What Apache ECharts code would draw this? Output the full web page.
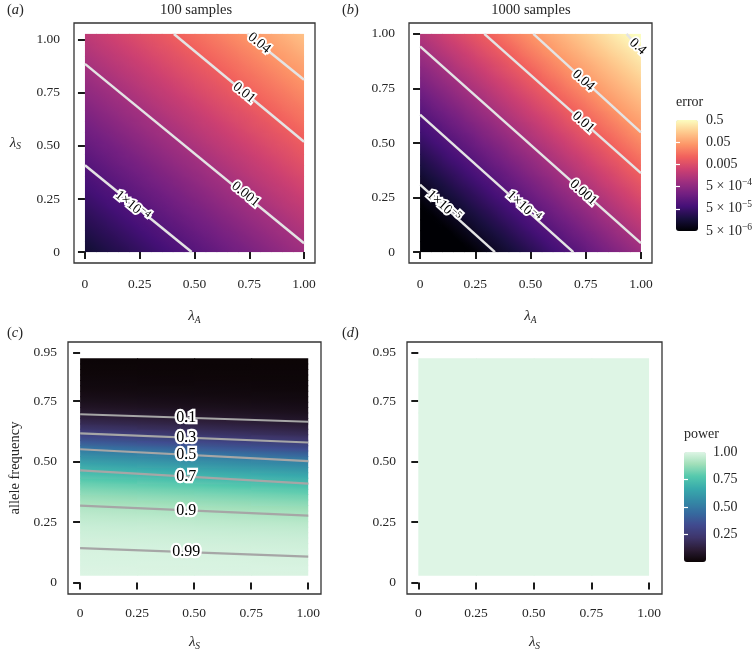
<!DOCTYPE html>
<html><head><meta charset="utf-8">
<script src="https://cdn.jsdelivr.net/npm/echarts@6/dist/echarts.min.js"></script>
<style>html,body{margin:0;padding:0;background:#fff}#c{width:756px;height:650px}</style>
</head><body><div id="c"></div>
<script>
// ---------------- data ----------------
// cell centres
const A_X = [0.025,0.075,0.125,0.175,0.225,0.275,0.325,0.375,0.425,0.475,0.525,0.575,0.625,0.675,0.725,0.775,0.825,0.875,0.925,0.975];
const A_Y = [0.0257,0.0771,0.1284,0.1798,0.2311,0.2825,0.3338,0.3852,0.4365,0.4879,0.5392,0.5906,0.6419,0.6933,0.7446,0.7960,0.8473,0.8987,0.9500,1.0014];
const B_X = [0.025,0.075,0.125,0.175,0.225,0.275,0.325,0.375,0.425,0.475,0.525,0.575,0.625,0.675,0.725,0.775,0.825,0.875,0.925,0.975];
const B_Y = [0.025,0.075,0.125,0.175,0.225,0.275,0.325,0.375,0.425,0.475,0.525,0.575,0.625,0.675,0.725,0.775,0.825,0.875,0.925,0.975];
const C_X = [0.125,0.375,0.625,0.875];
const C_Y = [0.0393,0.0618,0.0843,0.1068,0.1293,0.1518,0.1743,0.1968,0.2193,0.2418,0.2643,0.2868,0.3093,0.3318,0.3543,0.3768,0.3993,0.4218,0.4443,0.4668,0.4893,0.5118,0.5343,0.5568,0.5793,0.6018,0.6243,0.6468,0.6693,0.6918,0.7143,0.7368,0.7593,0.7818,0.8043,0.8268,0.8493,0.8718,0.8943,0.9168];
const D_X = [0.125,0.375,0.625,0.875];
const D_Y = [0.1405,0.3655,0.5905,0.8155];

// panel (a): log10(error), 100 samples (rows = lambda_S from bottom, cols = lambda_A)
const A_LOG_ERR = [
[-4.76,-4.67,-4.58,-4.50,-4.41,-4.32,-4.23,-4.14,-4.05,-3.97,-3.88,-3.79,-3.70,-3.61,-3.53,-3.44,-3.35,-3.26,-3.17,-3.09],
[-4.65,-4.56,-4.48,-4.39,-4.30,-4.21,-4.12,-4.03,-3.95,-3.86,-3.77,-3.68,-3.59,-3.51,-3.42,-3.33,-3.24,-3.15,-3.07,-2.98],
[-4.54,-4.46,-4.37,-4.28,-4.19,-4.10,-4.02,-3.93,-3.84,-3.75,-3.66,-3.58,-3.49,-3.40,-3.31,-3.22,-3.13,-3.05,-2.96,-2.87],
[-4.44,-4.35,-4.26,-4.17,-4.08,-4.00,-3.91,-3.82,-3.73,-3.64,-3.56,-3.47,-3.38,-3.29,-3.20,-3.11,-3.03,-2.94,-2.85,-2.76],
[-4.33,-4.24,-4.15,-4.07,-3.98,-3.89,-3.80,-3.71,-3.62,-3.54,-3.45,-3.36,-3.27,-3.18,-3.10,-3.01,-2.92,-2.83,-2.74,-2.66],
[-4.22,-4.13,-4.05,-3.96,-3.87,-3.78,-3.69,-3.60,-3.52,-3.43,-3.34,-3.25,-3.16,-3.08,-2.99,-2.90,-2.81,-2.72,-2.64,-2.55],
[-4.11,-4.03,-3.94,-3.85,-3.76,-3.67,-3.58,-3.50,-3.41,-3.32,-3.23,-3.14,-3.06,-2.97,-2.88,-2.79,-2.70,-2.62,-2.53,-2.44],
[-4.01,-3.92,-3.83,-3.74,-3.65,-3.57,-3.48,-3.39,-3.30,-3.21,-3.13,-3.04,-2.95,-2.86,-2.77,-2.68,-2.60,-2.51,-2.42,-2.33],
[-3.90,-3.81,-3.72,-3.63,-3.55,-3.46,-3.37,-3.28,-3.19,-3.11,-3.02,-2.93,-2.84,-2.75,-2.67,-2.58,-2.49,-2.40,-2.31,-2.22],
[-3.79,-3.70,-3.62,-3.53,-3.44,-3.35,-3.26,-3.17,-3.09,-3.00,-2.91,-2.82,-2.73,-2.65,-2.56,-2.47,-2.38,-2.29,-2.21,-2.12],
[-3.68,-3.60,-3.51,-3.42,-3.33,-3.24,-3.15,-3.07,-2.98,-2.89,-2.80,-2.71,-2.63,-2.54,-2.45,-2.36,-2.27,-2.19,-2.10,-2.01],
[-3.58,-3.49,-3.40,-3.31,-3.22,-3.13,-3.05,-2.96,-2.87,-2.78,-2.69,-2.61,-2.52,-2.43,-2.34,-2.25,-2.17,-2.08,-1.99,-1.90],
[-3.47,-3.38,-3.29,-3.20,-3.12,-3.03,-2.94,-2.85,-2.76,-2.68,-2.59,-2.50,-2.41,-2.32,-2.24,-2.15,-2.06,-1.97,-1.88,-1.79],
[-3.36,-3.27,-3.18,-3.10,-3.01,-2.92,-2.83,-2.74,-2.66,-2.57,-2.48,-2.39,-2.30,-2.22,-2.13,-2.04,-1.95,-1.86,-1.77,-1.69],
[-3.25,-3.17,-3.08,-2.99,-2.90,-2.81,-2.72,-2.64,-2.55,-2.46,-2.37,-2.28,-2.20,-2.11,-2.02,-1.93,-1.84,-1.76,-1.67,-1.58],
[-3.15,-3.06,-2.97,-2.88,-2.79,-2.70,-2.62,-2.53,-2.44,-2.35,-2.26,-2.18,-2.09,-2.00,-1.91,-1.82,-1.74,-1.65,-1.56,-1.47],
[-3.04,-2.95,-2.86,-2.77,-2.69,-2.60,-2.51,-2.42,-2.33,-2.24,-2.16,-2.07,-1.98,-1.89,-1.80,-1.72,-1.63,-1.54,-1.45,-1.36],
[-2.93,-2.84,-2.75,-2.67,-2.58,-2.49,-2.40,-2.31,-2.23,-2.14,-2.05,-1.96,-1.87,-1.79,-1.70,-1.61,-1.52,-1.43,-1.34,-1.26],
[-2.82,-2.73,-2.65,-2.56,-2.47,-2.38,-2.29,-2.21,-2.12,-2.03,-1.94,-1.85,-1.77,-1.68,-1.59,-1.50,-1.41,-1.32,-1.24,-1.15],
[-2.72,-2.63,-2.54,-2.45,-2.36,-2.27,-2.19,-2.10,-2.01,-1.92,-1.83,-1.75,-1.66,-1.57,-1.48,-1.39,-1.31,-1.22,-1.13,-1.04]
];

// panel (b): log10(error), 1000 samples
const B_LOG_ERR = [
[-5.82,-5.68,-5.53,-5.39,-5.25,-5.11,-4.96,-4.82,-4.68,-4.54,-4.40,-4.25,-4.11,-3.97,-3.83,-3.68,-3.54,-3.40,-3.26,-3.12],
[-5.66,-5.52,-5.38,-5.23,-5.09,-4.95,-4.81,-4.67,-4.52,-4.38,-4.24,-4.10,-3.96,-3.81,-3.67,-3.53,-3.39,-3.24,-3.10,-2.96],
[-5.50,-5.36,-5.22,-5.08,-4.94,-4.79,-4.65,-4.51,-4.37,-4.22,-4.08,-3.94,-3.80,-3.66,-3.51,-3.37,-3.23,-3.09,-2.94,-2.80],
[-5.35,-5.21,-5.06,-4.92,-4.78,-4.64,-4.50,-4.35,-4.21,-4.07,-3.93,-3.78,-3.64,-3.50,-3.36,-3.22,-3.07,-2.93,-2.79,-2.65],
[-5.19,-5.05,-4.91,-4.77,-4.62,-4.48,-4.34,-4.20,-4.05,-3.91,-3.77,-3.63,-3.49,-3.34,-3.20,-3.06,-2.92,-2.78,-2.63,-2.49],
[-5.04,-4.89,-4.75,-4.61,-4.47,-4.33,-4.18,-4.04,-3.90,-3.76,-3.61,-3.47,-3.33,-3.19,-3.05,-2.90,-2.76,-2.62,-2.48,-2.33],
[-4.88,-4.74,-4.60,-4.45,-4.31,-4.17,-4.03,-3.88,-3.74,-3.60,-3.46,-3.32,-3.17,-3.03,-2.89,-2.75,-2.60,-2.46,-2.32,-2.18],
[-4.72,-4.58,-4.44,-4.30,-4.15,-4.01,-3.87,-3.73,-3.59,-3.44,-3.30,-3.16,-3.02,-2.87,-2.73,-2.59,-2.45,-2.31,-2.16,-2.02],
[-4.57,-4.43,-4.28,-4.14,-4.00,-3.86,-3.71,-3.57,-3.43,-3.29,-3.15,-3.00,-2.86,-2.72,-2.58,-2.43,-2.29,-2.15,-2.01,-1.87],
[-4.41,-4.27,-4.13,-3.98,-3.84,-3.70,-3.56,-3.42,-3.27,-3.13,-2.99,-2.85,-2.71,-2.56,-2.42,-2.28,-2.14,-1.99,-1.85,-1.71],
[-4.25,-4.11,-3.97,-3.83,-3.69,-3.54,-3.40,-3.26,-3.12,-2.97,-2.83,-2.69,-2.55,-2.41,-2.26,-2.12,-1.98,-1.84,-1.69,-1.55],
[-4.10,-3.96,-3.81,-3.67,-3.53,-3.39,-3.25,-3.10,-2.96,-2.82,-2.68,-2.53,-2.39,-2.25,-2.11,-1.97,-1.82,-1.68,-1.54,-1.40],
[-3.94,-3.80,-3.66,-3.52,-3.37,-3.23,-3.09,-2.95,-2.80,-2.66,-2.52,-2.38,-2.24,-2.09,-1.95,-1.81,-1.67,-1.53,-1.38,-1.27],
[-3.79,-3.64,-3.50,-3.36,-3.22,-3.08,-2.93,-2.79,-2.65,-2.51,-2.36,-2.22,-2.08,-1.94,-1.80,-1.65,-1.51,-1.37,-1.25,-1.13],
[-3.63,-3.49,-3.35,-3.20,-3.06,-2.92,-2.78,-2.63,-2.49,-2.35,-2.21,-2.07,-1.92,-1.78,-1.64,-1.50,-1.36,-1.24,-1.12,-1.00],
[-3.47,-3.33,-3.19,-3.05,-2.90,-2.76,-2.62,-2.48,-2.34,-2.19,-2.05,-1.91,-1.77,-1.62,-1.48,-1.35,-1.23,-1.11,-0.99,-0.87],
[-3.32,-3.18,-3.03,-2.89,-2.75,-2.61,-2.46,-2.32,-2.18,-2.04,-1.90,-1.75,-1.61,-1.47,-1.34,-1.22,-1.10,-0.98,-0.86,-0.74],
[-3.16,-3.02,-2.88,-2.73,-2.59,-2.45,-2.31,-2.17,-2.02,-1.88,-1.74,-1.60,-1.46,-1.33,-1.21,-1.09,-0.97,-0.85,-0.73,-0.61],
[-3.00,-2.86,-2.72,-2.58,-2.44,-2.29,-2.15,-2.01,-1.87,-1.72,-1.58,-1.44,-1.31,-1.19,-1.07,-0.95,-0.83,-0.71,-0.60,-0.48],
[-2.85,-2.71,-2.56,-2.42,-2.28,-2.14,-2.00,-1.85,-1.71,-1.57,-1.43,-1.30,-1.18,-1.06,-0.94,-0.82,-0.70,-0.58,-0.46,-0.34]
];

// panel (c): power (rows = allele frequency from bottom, cols = lambda_S)
const C_POWER = [
[.994,.993,.992,.991],[.992,.991,.990,.989],[.990,.989,.988,.986],[.988,.986,.985,.983],
[.985,.983,.981,.979],[.981,.979,.976,.973],[.976,.973,.970,.967],[.970,.967,.963,.959],
[.963,.959,.954,.949],[.954,.949,.943,.937],[.943,.937,.930,.922],[.930,.922,.914,.905],
[.914,.905,.894,.883],[.894,.883,.871,.858],[.871,.858,.844,.828],[.844,.828,.812,.794],
[.812,.794,.775,.755],[.775,.755,.733,.711],[.733,.711,.687,.662],[.687,.662,.637,.610],
[.637,.610,.583,.556],[.583,.556,.528,.500],[.528,.500,.460,.420],[.460,.420,.381,.344],
[.381,.344,.309,.276],[.309,.276,.245,.216],[.245,.216,.190,.167],[.190,.167,.146,.127],
[.146,.127,.110,.095],[.110,.095,.082,.071],[.082,.071,.061,.052],[.061,.052,.045,.039],
[.045,.039,.033,.028],[.033,.028,.024,.021],[.024,.021,.018,.015],[.018,.015,.013,.011],
[.013,.011,.009,.008],[.009,.008,.007,.006],[.007,.006,.005,.004],[.005,.004,.004,.003]
];
// panel (d): power
const D_POWER = [[1,1,1,1],[1,1,1,1],[1,1,1,1],[1,1,1,1]];

// contour lines (endpoints in data units) and labels
const A_LEVELS = ['1×10^−4','0.001','0.01','0.04'];
const A_LINES = [[[0,0.409],[0.487,0]],[[0,0.886],[1,0.042]],[[0.406,1.027],[1,0.519]],[[0.741,1.027],[1,0.811]]];
const A_LABEL_AT = [[0.216,0.218],[0.733,0.272],[0.726,0.750],[0.795,0.984]];
const B_LEVELS = ['1×10^−5','1×10^−4','0.001','0.01','0.04','0.4'];
const B_LINES = [[[0,0.309],[0.339,0]],[[0,0.63],[0.694,0]],[[0,0.943],[1,0.041]],[[0.291,1.0],[1,0.362]],[[0.513,1.0],[1,0.549]],[[0.935,1.0],[1,0.925]]];
const B_LABEL_AT = [[0.106,0.211],[0.468,0.209],[0.739,0.273],[0.739,0.595],[0.739,0.787],[0.985,0.942]];
const C_LEVELS = ['0.1','0.3','0.5','0.7','0.9','0.99'];
const C_LINES = [[[0,0.696],[1,0.665]],[[0,0.617],[1,0.579]],[[0,0.551],[1,0.502]],[[0,0.464],[1,0.409]],[[0,0.318],[1,0.276]],[[0,0.142],[1,0.107]]];
const C_LABEL_AT = [[0.465,0.682],[0.465,0.599],[0.465,0.528],[0.465,0.438],[0.465,0.298],[0.465,0.126]];

// ticks, legend breaks, text
const AB_TICKS = [0,0.25,0.5,0.75,1];
const AB_TICK_LABELS = ['0','0.25','0.50','0.75','1.00'];
const CD_Y_TICKS = [0,0.25,0.5,0.75,0.95];
const CD_Y_TICK_LABELS = ['0','0.25','0.50','0.75','0.95'];
const ERR_BREAKS = [0.5,0.05,0.005,5e-4,5e-5,5e-6];
const ERR_LABELS = ['0.5','0.05','0.005','5 × 10^−4','5 × 10^−5','5 × 10^−6'];
const POW_BREAKS = [1,0.75,0.5,0.25];
const POW_LABELS = ['1.00','0.75','0.50','0.25'];
const TITLES = ['100 samples','1000 samples'];
const TAGS = ['a','b','c','d'];

// ---------------- chart ----------------
const SERIF = '"Liberation Serif","DejaVu Serif",serif';
const MAGMA = ['#000004','#180F3E','#451077','#721F81','#9F2F7F','#CD4071','#F1605D','#FD9567','#FEC98D','#FCFDBF'];
const MAKO = ['#0B0405','#2B1C35','#3E356B','#40498E','#366A9F','#348AA6','#38AAAC','#54C9AD','#A0DFB9','#DEF5E5'];
const TXT = '#262626';
const TICK_FS = 13.5;

const errLog = ERR_BREAKS.map(v=>Math.log10(v));
const ERR_MIN = errLog[5], ERR_MAX = errLog[0];

function toRich(s){ const k=s.indexOf('^'); return k<0 ? s : s.slice(0,k)+'{sup|'+s.slice(k+1)+'}'; }
function lookup(ticks, labels){ return v => { let b=0; ticks.forEach((t,i)=>{ if(Math.abs(t-v)<Math.abs(ticks[b]-v)) b=i; }); return labels[b]; }; }
// same piecewise-linear RGB ramp as the visualMap
function ramp(pal, min, max){
  const rgb = pal.map(h=>[1,3,5].map(k=>parseInt(h.slice(k,k+2),16)));
  return v => { let t=(v-min)/(max-min); t=Math.max(0,Math.min(1,t)); const s=t*(rgb.length-1);
    const a=Math.floor(s), b=Math.min(a+1,rgb.length-1), f=s-a;
    return 'rgb('+[0,1,2].map(k=>Math.round(rgb[a][k]+(rgb[b][k]-rgb[a][k])*f)).join(',')+')'; };
}

// tile series: each tile is shaded from its own value with the local slope of the grid (smooth raster look)
function cellSeries(gi, xs, ys, rows, colorOf){
  const nx=xs.length, ny=ys.length, hw=(xs[1]-xs[0])/2, hh=(ys[1]-ys[0])/2, data=[];
  rows.forEach((row,j)=>row.forEach((v,i)=>data.push([xs[i],ys[j],v])));
  return {type:'custom', xAxisIndex:gi, yAxisIndex:gi, silent:true, z:1, data, encode:{x:0,y:1},
    renderItem(p, api){
      const idx=p.dataIndex, i=idx%nx, j=Math.floor(idx/nx), v=rows[j][i];
      const i0=Math.max(i-1,0), i1=Math.min(i+1,nx-1), j0=Math.max(j-1,0), j1=Math.min(j+1,ny-1);
      const gx = i1>i0 ? (rows[j][i1]-rows[j][i0])/(i1-i0) : 0;
      const gy = j1>j0 ? (rows[j1][i]-rows[j0][i])/(j1-j0) : 0;
      const x=api.value(0), y=api.value(1);
      const a=api.coord([x-hw,y-hh]), b=api.coord([x+hw,y+hh]);
      const w=b[0]-a[0], h=a[1]-b[1], cx=(a[0]+b[0])/2, cy=(a[1]+b[1])/2;
      const Gx=gx/w, Gy=-gy/h, mag=Math.hypot(Gx,Gy);
      let fill;
      if (mag<1e-9) fill=colorOf(v);
      else {
        const L=Math.hypot(w,h)/2+1, ux=Gx/mag, uy=Gy/mag, stops=[];
        for (let k=0;k<=4;k++) stops.push({offset:k/4, color:colorOf(v+mag*L*(k/2-1))});
        fill={type:'linear', x:cx-ux*L, y:cy-uy*L, x2:cx+ux*L, y2:cy+uy*L, global:true, colorStops:stops};
      }
      const ox = i<nx-1 ? 1 : 0, oy = j>0 ? 1 : 0;
      return {type:'rect', shape:{x:a[0], y:b[1], width:w+ox, height:h+oy}, style:{fill}};
    }};
}
function lineSeries(gi, lines, color, width){
  return lines.map(l=>({type:'line', xAxisIndex:gi, yAxisIndex:gi, data:l, symbol:'none', silent:true, z:3,
    lineStyle:{color, width, cap:'butt'}}));
}
function labelSeries(gi, pos, texts, rot, fs, bw){
  return {type:'custom', xAxisIndex:gi, yAxisIndex:gi, silent:true, z:5, data:pos, encode:{x:0,y:1},
    renderItem(p, api){
      const c=api.coord([api.value(0),api.value(1)]);
      return {type:'text', x:c[0], y:c[1], rotation:rot*Math.PI/180,
        style:{text:toRich(texts[p.dataIndex]), align:'center', verticalAlign:'middle', fontFamily:SERIF, fontSize:fs,
          lineHeight:fs+3, fill:'#000', stroke:'#fff', lineWidth:bw,
          rich:{sup:{fontSize:10, lineHeight:10, verticalAlign:'top', fontFamily:SERIF, fill:'#000', stroke:'#fff', lineWidth:bw}}}};
    }};
}
const nameRich = {l:{fontFamily:SERIF, fontSize:15, fontStyle:'italic', color:TXT, lineHeight:17}, s:{fontFamily:SERIF, fontSize:9.5, fontStyle:'italic', color:TXT, lineHeight:9, verticalAlign:'bottom'}};
function xAx(gi, min, max, name, gap, margin){
  return {gridIndex:gi, type:'value', min, max, axisLine:{show:false}, splitLine:{show:false},
    axisTick:{show:true, length:7, lineStyle:{color:'#1a1a1a', width:2}, customValues:AB_TICKS},
    axisLabel:{customValues:AB_TICKS, formatter:lookup(AB_TICKS,AB_TICK_LABELS), fontFamily:SERIF, fontSize:TICK_FS, color:TXT, margin},
    name, nameLocation:'middle', nameGap:gap, nameTextStyle:{rich:nameRich}};
}
function yAx(gi, min, max, ticks, labels, margin, name, gap, rot, nameStyle){
  return {gridIndex:gi, type:'value', min, max, axisLine:{show:false}, splitLine:{show:false},
    axisTick:{show:true, length:7, lineStyle:{color:'#1a1a1a', width:2}, customValues:ticks},
    axisLabel:{customValues:ticks, formatter:lookup(ticks,labels), fontFamily:SERIF, fontSize:TICK_FS, color:TXT, margin},
    name, nameLocation:'middle', nameGap:gap, nameRotate:rot, nameTextStyle:nameStyle};
}
function barAxis(gi, min, max, ticks, labels, inner, pos, showLabel, margin){
  return {gridIndex:gi, type:'value', min, max, position:pos, z:10, axisLine:{show:false}, splitLine:{show:false},
    axisTick:{show:true, inside:true, length:4, lineStyle:{color:'#fff', width:1.2}, customValues:inner},
    axisLabel:{show:showLabel, customValues:ticks, formatter:v=>toRich(lookup(ticks,labels)(v)), fontFamily:SERIF, fontSize:14, color:TXT, margin, lineHeight:18,
      rich:{sup:{fontFamily:SERIF, fontSize:9.5, lineHeight:9, verticalAlign:'top', color:TXT}}}};
}

const grids = [
  {left:74, top:23, width:241, height:240},
  {left:409, top:23, width:243, height:240},
  {left:68, top:342, width:253, height:252},
  {left:407, top:342, width:255, height:252},
  {left:676, top:120, width:22, height:111, show:false},
  {left:684, top:452, width:22, height:110, show:false}
].map((g,i)=>Object.assign({show:i<4, borderColor:'#333', borderWidth:1.3, backgroundColor:'rgba(0,0,0,0)', containLabel:false, outerBoundsMode:'none'}, g));

const errColor = ramp(MAGMA, ERR_MIN, ERR_MAX), powColor = ramp(MAKO, 0, 1);

const option = {
  animation:false,
  backgroundColor:'#fff',
  grid: grids,
  xAxis: [
    xAx(0,-0.05,1.05,'{l|λ}{s|A}',45,14),
    xAx(1,-0.05,1.05,'{l|λ}{s|A}',45,14),
    xAx(2,-0.053,1.056,'{l|λ}{s|S}',40,12),
    xAx(3,-0.049,1.056,'{l|λ}{s|S}',40,12),
    {gridIndex:4, type:'value', show:false, min:0, max:1},
    {gridIndex:5, type:'value', show:false, min:0, max:1}
  ],
  yAxis: [
    yAx(0,-0.0514,1.0784,AB_TICKS,AB_TICK_LABELS,14,'{l|λ}{s|S}',53,0,{rich:nameRich, align:'right'}),
    yAx(1,-0.05,1.05,AB_TICKS,AB_TICK_LABELS,14,'',0,0,{}),
    yAx(2,-0.048,0.995,CD_Y_TICKS,CD_Y_TICK_LABELS,11,'allele frequency',45,90,{fontFamily:SERIF, fontSize:14.5, color:TXT}),
    yAx(3,-0.048,0.995,CD_Y_TICKS,CD_Y_TICK_LABELS,11,'',0,0,{}),
    barAxis(4, ERR_MIN, ERR_MAX, errLog, ERR_LABELS, errLog.slice(1,5), 'right', true, 8),
    barAxis(4, ERR_MIN, ERR_MAX, errLog, ERR_LABELS, errLog.slice(1,5), 'left', false, 8),
    barAxis(5, 0, 1, POW_BREAKS, POW_LABELS, POW_BREAKS.slice(1), 'right', true, 7),
    barAxis(5, 0, 1, POW_BREAKS, POW_LABELS, POW_BREAKS.slice(1), 'left', false, 7)
  ],
  visualMap: [
    {type:'continuous', seriesIndex:[0,1], dimension:2, min:ERR_MIN, max:ERR_MAX, inRange:{color:MAGMA},
     left:676, top:120, itemWidth:22, itemHeight:111, calculable:false, hoverLink:false, padding:0, orient:'vertical', showLabel:false},
    {type:'continuous', seriesIndex:[2,3], dimension:2, min:0, max:1, inRange:{color:MAKO},
     left:684, top:452, itemWidth:22, itemHeight:110, calculable:false, hoverLink:false, padding:0, orient:'vertical', showLabel:false}
  ],
  series: [
    cellSeries(0, A_X, A_Y, A_LOG_ERR, errColor),
    cellSeries(1, B_X, B_Y, B_LOG_ERR, errColor),
    cellSeries(2, C_X, C_Y, C_POWER, powColor),
    cellSeries(3, D_X, D_Y, D_POWER, powColor),
    ...lineSeries(0, A_LINES, '#E4E4E4', 2.5),
    ...lineSeries(1, B_LINES, '#E4E4E4', 2.5),
    ...lineSeries(2, C_LINES, '#A6A6A6', 2.2),
    labelSeries(0, A_LABEL_AT, A_LEVELS, -39, 14, 4),
    labelSeries(1, B_LABEL_AT, B_LEVELS, -42, 14, 4),
    labelSeries(2, C_LABEL_AT, C_LEVELS, 0, 16, 4.5)
  ],
  graphic: [
    {type:'text', x:196, y:10, style:{text:TITLES[0], fontFamily:SERIF, fontSize:14.5, fill:TXT, textAlign:'center', textVerticalAlign:'middle'}},
    {type:'text', x:531, y:10, style:{text:TITLES[1], fontFamily:SERIF, fontSize:14.5, fill:TXT, textAlign:'center', textVerticalAlign:'middle'}},
    ...[[7,10],[342,10],[7,333],[342,333]].map((p,i)=>({type:'text', x:p[0], y:p[1],
      style:{text:'({i|'+TAGS[i]+'})', fontFamily:SERIF, fontSize:14.5, fill:TXT, textAlign:'left', textVerticalAlign:'middle',
        rich:{i:{fontFamily:SERIF, fontSize:14.5, fontStyle:'italic', fill:TXT}}}})),
    {type:'text', x:676, y:102, style:{text:'error', fontFamily:SERIF, fontSize:14, fill:TXT, textAlign:'left', textVerticalAlign:'middle'}},
    {type:'text', x:684, y:434, style:{text:'power', fontFamily:SERIF, fontSize:14, fill:TXT, textAlign:'left', textVerticalAlign:'middle'}}
  ]
};
const chart = echarts.init(document.getElementById('c'), null, {width:756, height:650});
chart.setOption(option);
</script></body></html>
